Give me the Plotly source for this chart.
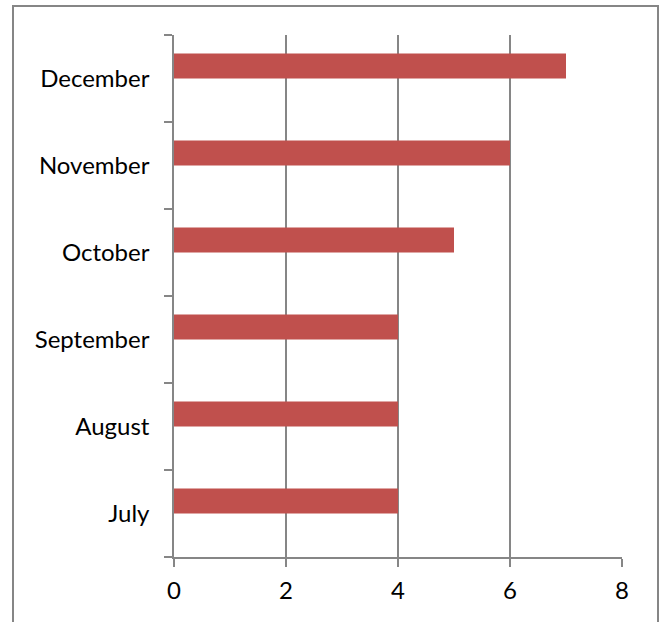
import plotly.graph_objects as go

months = ["July", "August", "September", "October", "November", "December"]
values = [4, 4, 4, 5, 6, 7]
x_ticks = [0, 2, 4, 6, 8]

AXIS_GRAY = "#868686"
BAR_RED = "#C0504D"

fig = go.Figure()
fig.add_trace(go.Bar(
    y=months,
    x=values,
    orientation="h",
    marker=dict(color=BAR_RED, line=dict(width=0)),
    width=0.286,
    offset=0,
    hoverinfo="x+y",
))

fig.update_layout(
    width=665,
    height=622,
    margin=dict(l=174, r=43, t=35, b=65),
    paper_bgcolor="white",
    plot_bgcolor="white",
    showlegend=False,
    font=dict(family="Lato, Calibri, sans-serif", size=24, color="black"),
    xaxis=dict(
        range=[0, 8],
        tickvals=x_ticks,
        ticktext=[str(v) for v in x_ticks],
        showgrid=True,
        gridcolor=AXIS_GRAY,
        gridwidth=1.5,
        zeroline=False,
        showline=True,
        linecolor=AXIS_GRAY,
        linewidth=1.5,
        ticks="outside",
        ticklen=8,
        tickcolor=AXIS_GRAY,
        tickwidth=1.5,
        ticklabelstandoff=3,
        fixedrange=True,
    ),
    yaxis=dict(
        type="category",
        categoryorder="array",
        categoryarray=months,
        range=[-0.5, 5.5],
        showgrid=False,
        zeroline=False,
        showline=True,
        linecolor=AXIS_GRAY,
        linewidth=1.5,
        ticks="outside",
        tickson="boundaries",
        ticklen=8,
        tickcolor=AXIS_GRAY,
        tickwidth=1.5,
        ticklabelstandoff=18,
        fixedrange=True,
    ),
    shapes=[
        # outer chart frame (bottom edge runs past the page)
        dict(
            type="rect", xref="paper", yref="paper",
            x0=(13 - 174) / 448, x1=(658 - 174) / 448,
            y0=-0.2, y1=(557 - 6) / 522,
            line=dict(color=AXIS_GRAY, width=2),
            fillcolor="rgba(0,0,0,0)",
            layer="below",
        ),
    ],
)

fig.write_html("out.html")
